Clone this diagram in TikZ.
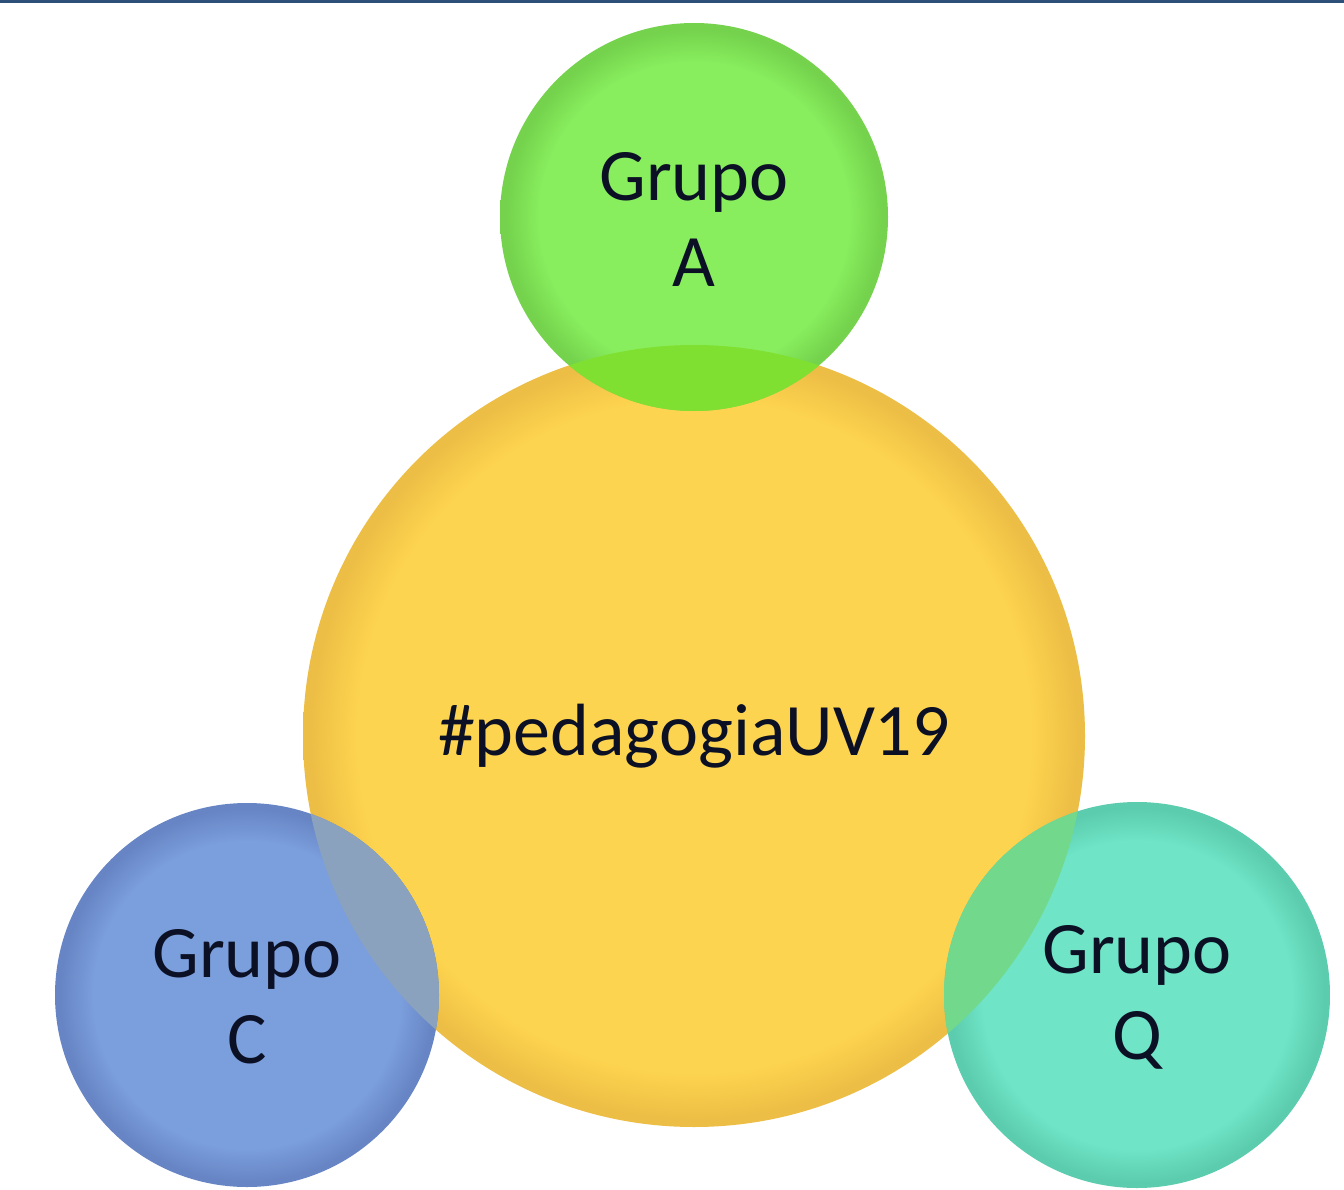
\documentclass[tikz,border=0pt]{standalone}
\usepackage{fontspec}
\setmainfont{Carlito}
\definecolor{yel}{HTML}{FDD44F}
\definecolor{yelrim}{HTML}{EDBE45}
\definecolor{grn}{HTML}{88EE5E}
\definecolor{grnrim}{HTML}{74D24C}
\definecolor{blu}{HTML}{7B9EDC}
\definecolor{blurim}{HTML}{6785C4}
\definecolor{tea}{HTML}{6FE4C6}
\definecolor{tearim}{HTML}{5CCCAE}
\definecolor{lensA}{HTML}{80E032}
\definecolor{lensC}{HTML}{8AA2BE}
\definecolor{lensQ}{HTML}{72D98C}
\definecolor{topline}{HTML}{2E4F78}
\definecolor{txt}{HTML}{0B1024}
\pgfdeclareradialshading{yelshade}{\pgfpoint{0bp}{0bp}}{color(0bp)=(yel); color(21.5bp)=(yel); color(24.5bp)=(yelrim); color(25bp)=(yelrim); color(50bp)=(yelrim)}
\pgfdeclareradialshading{grnshade}{\pgfpoint{0bp}{0bp}}{color(0bp)=(grn); color(20bp)=(grn); color(24.3bp)=(grnrim); color(25bp)=(grnrim); color(50bp)=(grnrim)}
\pgfdeclareradialshading{blushade}{\pgfpoint{0bp}{0bp}}{color(0bp)=(blu); color(20bp)=(blu); color(24.3bp)=(blurim); color(25bp)=(blurim); color(50bp)=(blurim)}
\pgfdeclareradialshading{teashade}{\pgfpoint{0bp}{0bp}}{color(0bp)=(tea); color(20bp)=(tea); color(24.3bp)=(tearim); color(25bp)=(tearim); color(50bp)=(tearim)}
\tikzset{
  ball/.style={circle, inner sep=0pt, align=center, text=txt,
    font=\fontsize{74}{86}\selectfont},
}
\begin{document}
\begin{tikzpicture}[x=1pt,y=-1pt]
\useasboundingbox (0,0) rectangle (1344,1190);
\fill[white] (0,0) rectangle (1344,1190);
\draw[topline, line width=3pt] (0,1.5) -- (1344,1.5);
% circle bodies
\shade[shading=yelshade] (694,736) circle (391);
\shade[shading=grnshade] (694,217) circle (194);
\shade[shading=blushade] (247,995) circle (192);
\shade[shading=teashade] (1137,995) circle (193);
% overlaps
\begin{scope}
  \clip (694,736) circle (391);
  \fill[lensA] (694,217) circle (194);
  \fill[lensC] (247,995) circle (192);
  \fill[lensQ] (1137,995) circle (193);
\end{scope}
% text nodes
\node[ball, minimum size=782pt] (Y) at (694,736) {\#pedagogiaUV19};
\node[ball, minimum size=388pt] (A) at (694,219) {Grupo\\A};
\node[ball, minimum size=384pt] (C) at (247,997) {Grupo\\C};
\node[ball, minimum size=386pt] (Q) at (1137,997) {Grupo\\Q};
\end{tikzpicture}
\end{document}
